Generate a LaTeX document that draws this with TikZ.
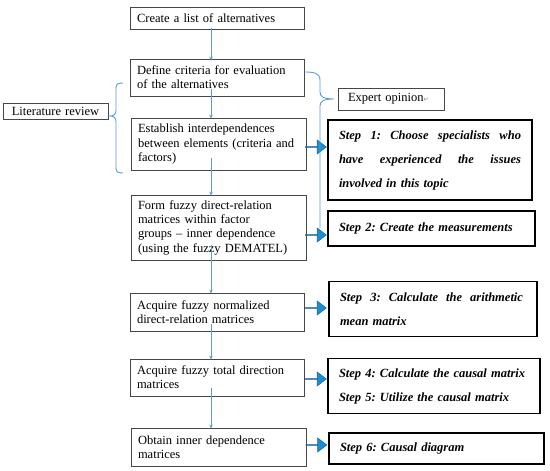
\documentclass[tikz,border=0pt]{standalone}
\usepackage{fontspec}
\setmainfont{Liberation Serif}
\newfontfamily\djv{DejaVu Sans}
\usetikzlibrary{shapes.arrows,arrows.meta}
\definecolor{lblue}{RGB}{91,155,213}
\definecolor{bblue}{RGB}{30,140,205}
\definecolor{bedge}{RGB}{20,100,165}
\definecolor{boxgray}{RGB}{70,70,70}
\frenchspacing
\newcommand{\spreadline}[2]{\makebox[#1][l]{#2}}
\begin{document}
\begin{tikzpicture}[x=1pt,y=-1pt,
 lbox/.style={draw=boxgray, line width=0.8pt, inner xsep=7pt, inner ysep=0pt, align=left,
   font=\fontsize{12.5}{14.3}\selectfont, anchor=center},
 sbox/.style={draw=black, line width=1.5pt, inner xsep=11pt, inner ysep=0pt, align=left,
   font=\fontsize{12.5}{24}\selectfont\bfseries\itshape, anchor=center},
 flow/.style={draw=lblue, line width=0.7pt, -{Stealth[length=4pt,width=3.5pt]}},
 bracepath/.style={draw=lblue, line width=0.9pt},
 barrow/.style={single arrow, draw=bedge, fill=bblue, line width=0.5pt, minimum height=21pt,
   minimum width=14pt, single arrow head extend=3.5pt, inner sep=0pt, single arrow tip angle=75}]
\useasboundingbox (0,0) rectangle (550,471);

% left column
\node[lbox, text width=160, minimum height=22] (b1) at (217,18) {Create a list of alternatives};
\node[lbox, text width=160, minimum height=37] (b2) at (217,77.5) {Define criteria for evaluation\\of the alternatives};
\node[lbox, text width=161, minimum height=52] (b3) at (218.5,144) {Establish interdependences\\between elements (criteria and\\factors)};
\node[lbox, text width=161, minimum height=65] (b4) at (218.5,227.5) {Form fuzzy direct-relation\\matrices within factor\\groups -- inner dependence\\(using the fuzzy DEMATEL)};
\node[lbox, text width=160, minimum height=38] (b5) at (217,312) {Acquire fuzzy normalized\\direct-relation matrices};
\node[lbox, text width=160, minimum height=37] (b6) at (217,377.5) {Acquire fuzzy total direction\\matrices};
\node[lbox, text width=161, minimum height=38] (b7) at (218.5,447) {Obtain inner dependence\\matrices};

% side boxes
\node[lbox, align=center, text width=91, minimum height=16] (lit) at (55.5,111) {Literature review};
\node[lbox, inner xsep=10pt, text width=86, minimum height=22] (exp) at (391,99) {Expert opinion{\djv\fontsize{6}{6}\selectfont\color{gray}↵}};

% step boxes
\node[sbox, text width=182, minimum height=80] (s1) at (430,160)
 {\spreadline{182pt}{Step\hfill 1:\hfill Choose\hfill specialists\hfill who}\\
  \spreadline{182pt}{have\hfill experienced\hfill the\hfill issues}\\
  involved in this topic};
\node[sbox, text width=185, minimum height=35] (s2) at (431.5,228.5) {Step 2: Create the measurements};
\node[sbox, text width=186, minimum height=55] (s3) at (433,309)
 {\spreadline{183pt}{Step\hfill 3:\hfill Calculate\hfill the\hfill arithmetic}\\mean matrix};
\node[sbox, text width=190, minimum height=55] (s4) at (434,386)
 {Step 4: Calculate the causal matrix\\Step 5: Utilize the causal matrix};
\node[sbox, text width=193, minimum height=31] (s6) at (436.5,448.5) {Step 6: Causal diagram};

% vertical flow arrows
\coordinate (ax) at (211,0);
\draw[flow] ([yshift=1]b1.south -| ax) -- ([yshift=-2]b2.north -| ax);
\draw[flow] ([yshift=7]b2.south -| ax) -- ([yshift=-1]b3.north -| ax);
\draw[flow] ([yshift=12]b3.south -| ax) -- ([yshift=-1]b4.north -| ax);
\draw[flow] ([yshift=15]b4.south -| ax) -- ([yshift=-1]b5.north -| ax);
\draw[flow] ([yshift=7]b5.south -| ax) -- ([yshift=-1]b6.north -| ax);
\draw[flow] ([yshift=8]b6.south -| ax) -- ([yshift=-1]b7.north -| ax);

% block arrows
\node[barrow] (a1) at (315.5,147) {};
\node[barrow] (a2) at (315.5,235) {};
\node[barrow] (a3) at (315.5,308) {};
\node[barrow] (a4) at (315.5,379) {};
\node[barrow] (a6) at (316,445) {};

% left brace (literature review)
\coordinate (lt) at (123,83);
\coordinate (lb) at (123,173);
\path[bracepath] (lt) .. controls (118,83) and (116,84) .. (116,88) -- (116,110)
  .. controls (116,114) and (114,116) .. (110,116)
  .. controls (114,116) and (116,118) .. (116,122) -- (116,168)
  .. controls (116,172) and (118,173) .. (lb);

% right brace (expert opinion)
\coordinate (et) at (b2.east |- 0,72);
\coordinate (eb) at (320,228);
\path[bracepath] (et) .. controls (314,72) and (320,73) .. (320,80) -- (320,92)
  .. controls (320,97) and (324,99) .. (334,99)
  .. controls (324,99) and (320,101) .. (320,106) -- (eb);
\end{tikzpicture}
\end{document}
